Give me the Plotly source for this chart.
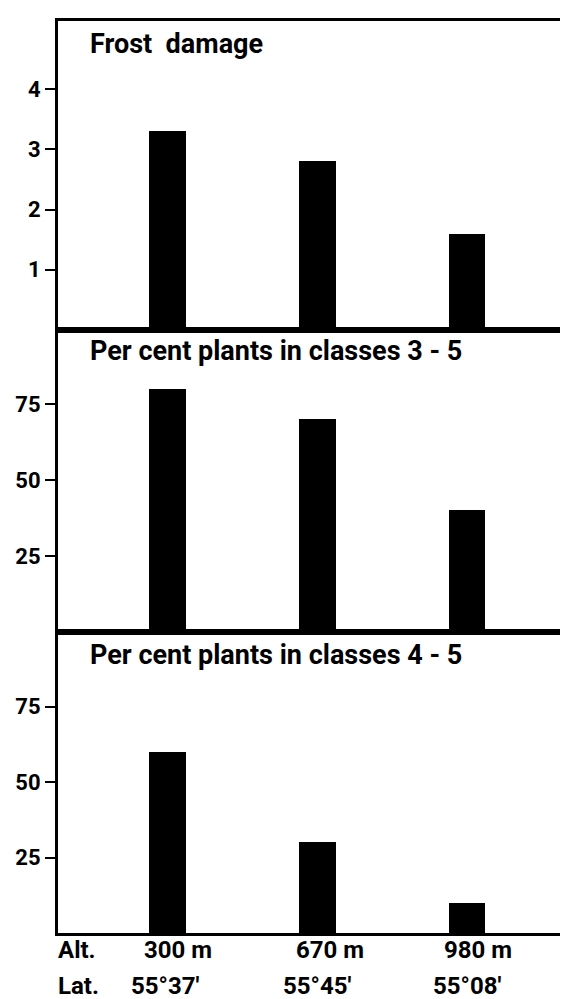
import plotly.graph_objects as go
from plotly.subplots import make_subplots

# ---- data ----
sites = ["300 m", "670 m", "980 m"]
alt_labels = ["300 m", "670 m", "980 m"]
lat_labels = ["55°37′", "55°45′", "55°08′"]
row_labels = ["Alt.", "Lat."]
panel_titles = ["Frost  damage", "Per cent plants in classes 3 - 5", "Per cent plants in classes 4 - 5"]
frost_damage = [3.3, 2.8, 1.6]
pct_classes_3_5 = [80, 70, 40]
pct_classes_4_5 = [60, 30, 10]
frost_ticks = [1, 2, 3, 4]
pct_ticks = [25, 50, 75]

FONT = "Roboto, Liberation Sans Narrow, DejaVu Sans Condensed, sans-serif"

W, H = 568, 999
ML, MR, MT, MB = 50, 1, 13, 74

fig = make_subplots(rows=3, cols=1, shared_xaxes=False, vertical_spacing=0)

series = [frost_damage, pct_classes_3_5, pct_classes_4_5]
xpos = list(range(len(sites)))
for i, vals in enumerate(series, start=1):
    fig.add_trace(go.Bar(x=xpos, y=vals, width=0.245, marker=dict(color="black", line=dict(width=0)),
                         showlegend=False, hoverinfo="skip"), row=i, col=1)

plot_h = H - MT - MB
d3 = (925 - 624) / plot_h
d2 = (925 - 322) / plot_h
doms = {1: [d2, 1.0], 2: [d3, d2], 3: [0.0, d3]}
ranges = {1: [0, 5.13], 2: [0, 99.3], 3: [0, 99.7]}
ticks = {1: frost_ticks, 2: pct_ticks, 3: pct_ticks}

for i in (1, 2, 3):
    fig.update_yaxes(row=i, col=1, domain=doms[i], range=ranges[i], tickvals=ticks[i],
                     ticktext=[str(t) for t in ticks[i]],
                     ticks="outside", ticklen=10, tickwidth=1.5, tickcolor="black",
                     showline=True, linewidth=3, linecolor="black", mirror=True,
                     showgrid=False, zeroline=False,
                     tickfont=dict(family=FONT, size=22, color="black", weight="bold"))
    fig.update_xaxes(row=i, col=1, range=[-0.73, 2.70], showticklabels=False, ticks="",
                     showline=True, linewidth=3, linecolor="black", mirror=True,
                     showgrid=False, zeroline=False)

annotations = []
title_shift = [-5, -3, -5]
for i, t in enumerate(panel_titles, start=1):
    yref = "y domain" if i == 1 else f"y{i} domain"
    annotations.append(dict(text=t, xref="paper", yref=yref, x=(80 - ML) / (W - ML - MR), y=1,
                            xanchor="left", yanchor="top", yshift=title_shift[i - 1], showarrow=False,
                            font=dict(family=FONT, size=27, color="black", weight="bold")))

def py(p):
    return (925 - p) / plot_h

alt_shift = [11, 13, 11]
lat_shift = [-2, 0, 0]
LBL = 24
for k in range(len(sites)):
    annotations.append(dict(text=alt_labels[k], xref="x3", yref="paper", x=xpos[k], y=py(958),
                            xanchor="center", yanchor="bottom", xshift=alt_shift[k], showarrow=False,
                            font=dict(family=FONT, size=LBL, color="black", weight="bold")))
    annotations.append(dict(text=lat_labels[k], xref="x3", yref="paper", x=xpos[k], y=py(994),
                            xanchor="center", yanchor="bottom", xshift=lat_shift[k], showarrow=False,
                            font=dict(family=FONT, size=LBL, color="black", weight="bold")))
for lab, yy in zip(row_labels, [958, 994]):
    annotations.append(dict(text=lab, xref="paper", yref="paper", x=(48 - ML) / (W - ML - MR), y=py(yy),
                            xanchor="left", yanchor="bottom", showarrow=False,
                            font=dict(family=FONT, size=LBL, color="black", weight="bold")))

fig.update_layout(width=W, height=H, margin=dict(l=ML, r=MR, t=MT, b=MB),
                  paper_bgcolor="white", plot_bgcolor="white", bargap=0,
                  annotations=annotations, font=dict(family=FONT, color="black"))

fig.write_html("out.html")
